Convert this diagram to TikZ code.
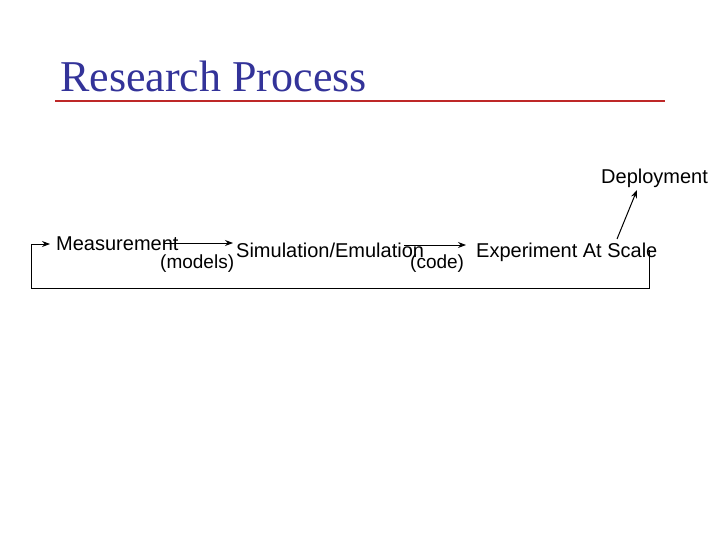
\documentclass[tikz,border=0pt]{standalone}
\usepackage{fontspec}
\setmainfont{Liberation Serif}
\setsansfont{Liberation Sans}
\usetikzlibrary{arrows.meta}
\definecolor{titleblue}{RGB}{51,51,153}
\definecolor{rulered}{RGB}{190,40,40}
\begin{document}
\begin{tikzpicture}[x=1pt,y=-1pt,
  lbl/.style={font=\sffamily\fontsize{20}{20}\selectfont,inner sep=0pt,anchor=base west},
  sublbl/.style={font=\sffamily\fontsize{19}{19}\selectfont,inner sep=0pt,anchor=base west},
  conn/.style={line width=1pt,-{Stealth[length=8pt,width=6pt]}}]
\useasboundingbox (0,0) rectangle (720,540);
\node[anchor=base west,inner sep=0pt,text=titleblue,font=\fontsize{44}{44}\selectfont] (title) at (60,92) {Research Process};
\draw[rulered,line width=2pt] (55,101) coordinate (r1) -- (665,101) coordinate (r2);
\node[lbl] (meas) at (56,250) {Measurement};
\node[sublbl] (models) at (160,268) {(models)};
\node[lbl] (sim) at (236,257) {Simulation/Emulation};
\node[sublbl] (code) at (410,268) {(code)};
\node[lbl] (exp) at (476,257) {Experiment At Scale};
\node[lbl] (dep) at (601,184) {Deployment};
\coordinate (a1) at (164,243);
\coordinate (a1e) at (233,243);
\coordinate (a2) at (404,245);
\coordinate (a2e) at (466,245);
\coordinate (d1) at (617,239);
\coordinate (d2) at (637,190);
\coordinate (l1) at (649,250);
\coordinate (l2) at (649,288);
\coordinate (l3) at (31,288);
\coordinate (l4) at (31,244);
\coordinate (l5) at (50,244);
\draw[conn] (a1) -- (a1e);
\draw[conn] (a2) -- (a2e);
\draw[conn] (d1) -- (d2);
\draw[conn] (l1) -- (l2) -- (l3) -- (l4) -- (l5);
\end{tikzpicture}
\end{document}
